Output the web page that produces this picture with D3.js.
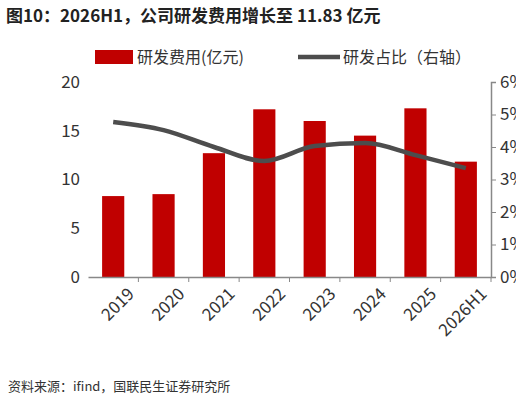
<!DOCTYPE html><html><head><meta charset="utf-8"><script src="https://cdn.jsdelivr.net/npm/d3@7"></script>
<style>body{margin:0;background:#fff;overflow:hidden}text{font-family:"Noto Sans CJK SC","Liberation Sans",sans-serif}</style></head><body>
<svg id="c" width="516" height="401"></svg>
<script>
const categories=["2019","2020","2021","2022","2023","2024","2025","2026H1"];
const expense=[8.3,8.5,12.7,17.2,16.0,14.5,17.3,11.83];
const ratio=[4.77,4.52,4.0,3.57,4.03,4.12,3.75,3.35];
const leftTicks=[0,5,10,15,20];
const rightTicks=[0,1,2,3,4,5,6];
const svg=d3.select("#c");
svg.append("text").attr("x",6).attr("y",22).attr("font-size",17).attr("font-weight","bold").attr("fill","#222").text("图10：2026H1，公司研发费用增长至 11.83 亿元");
const x=d3.scaleBand().domain(categories).range([88,491]).paddingInner(0.56).paddingOuter(0.28);
const y=d3.scaleLinear().domain([0,20]).range([277,82]);
const y2=d3.scaleLinear().domain([0,6]).range([277,82]);
const gl=svg.append("g").attr("transform","translate(88,0)").call(d3.axisLeft(y).tickValues(leftTicks).tickSize(0).tickPadding(8));
gl.select(".domain").remove();
gl.selectAll("text").attr("font-size",17).attr("fill","#333");
svg.selectAll(".bar").data(expense).join("rect").attr("x",(d,i)=>x(categories[i])).attr("width",x.bandwidth()).attr("y",d=>y(d)).attr("height",d=>277-y(d)).attr("fill","#c00000");
const gx=svg.append("g").attr("transform","translate(0,277)").call(d3.axisBottom(x).tickSize(5).tickSizeOuter(0));
gx.select(".domain").attr("stroke","#888").attr("stroke-width",1.5);
gx.selectAll(".tick line").attr("stroke","#888").attr("transform",`translate(${x.step()/2},0)`);
gx.selectAll("text").attr("font-size",17).attr("fill","#333").attr("text-anchor","end").attr("transform","translate(8,4) rotate(-45)").attr("dy","0.7em");
const gr=svg.append("g").attr("transform","translate(491,0)").call(d3.axisRight(y2).tickValues(rightTicks).tickFormat(d=>d+"%").tickSize(5).tickSizeOuter(5).tickPadding(4));
gr.select(".domain").attr("stroke","#888").attr("stroke-width",1.5);
gr.selectAll(".tick line").attr("stroke","#888");
gr.selectAll("text").attr("font-size",17).attr("fill","#333");
svg.append("path").datum(ratio).attr("fill","none").attr("stroke","#4d4d4d").attr("stroke-width",4.5)
 .attr("d",d3.line().x((d,i)=>x(categories[i])+x.bandwidth()/2).y(d=>y2(d)).curve(d3.curveMonotoneX));
svg.append("rect").attr("x",95).attr("y",50).attr("width",38).attr("height",14).attr("fill","#c00000");
svg.append("text").attr("x",137).attr("y",63).attr("font-size",16).attr("fill","#333").text("研发费用(亿元)");
svg.append("line").attr("x1",298).attr("x2",340).attr("y1",57).attr("y2",57).attr("stroke","#4d4d4d").attr("stroke-width",4.5);
svg.append("text").attr("x",343).attr("y",63).attr("font-size",16).attr("fill","#333").text("研发占比（右轴）");
svg.append("text").attr("x",8).attr("y",391).attr("font-size",13).attr("fill","#333").text("资料来源：ifind，国联民生证券研究所");
</script></body></html>
